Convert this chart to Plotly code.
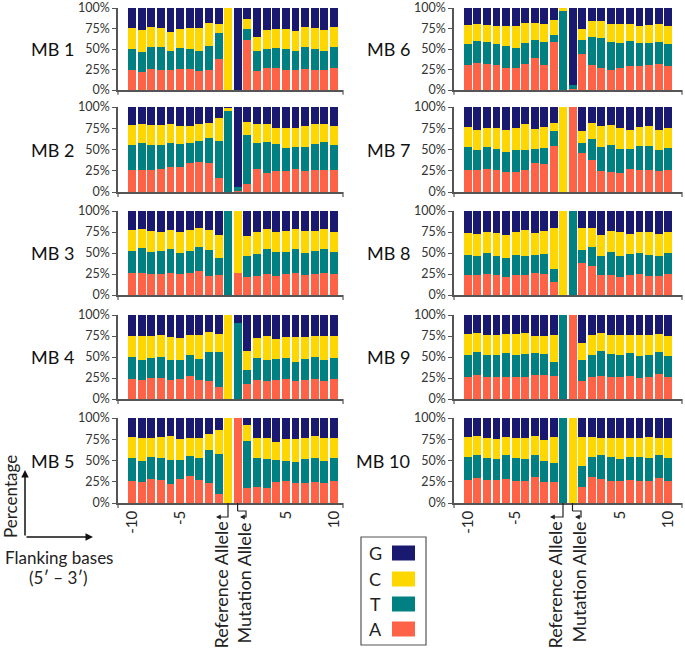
import plotly.graph_objects as go

W, H = 685, 650

# ---------------- data ----------------
# bar order: -10..-1, Reference allele, Mutation allele, +1..+10
bar_index = list(range(22))
bottom_tick_vals = [0, 5, 16, 21]
bottom_tick_text = ["-10", "-5", "5", "10"]
y_tick_vals = [0, 25, 50, 75, 100]
y_tick_text = ["0%", "25%", "50%", "75%", "100%"]
panel_names = ["MB 1", "MB 2", "MB 3", "MB 4", "MB 5", "MB 6", "MB 7", "MB 8", "MB 9", "MB 10"]
bases = ["A", "T", "C", "G"]

# cumulative boundaries (%): top of A, top of A+T, top of A+T+C  (G fills up to 100)
mb1_a = [24, 22.5, 26, 25, 24, 26, 26, 23, 24, 38, 0, 0, 61, 23, 27, 26.5, 25, 25, 26, 25, 24, 27]
mb1_t = [50, 46.6, 53, 52, 47, 51, 50.5, 47, 54, 69, 0, 0, 74, 47, 50, 51, 50, 47, 52, 50, 47, 53]
mb1_c = [76, 73, 77, 76, 71, 74, 75.5, 75.5, 82, 80, 100, 0, 86.5, 65, 73, 75, 74, 72, 76.5, 76, 73, 77]

mb2_a = [26, 26, 26, 27, 29, 30, 34.5, 35, 34, 17, 0, 1, 9, 27.5, 22, 24.7, 25, 26.7, 24.3, 25.5, 26.3, 25.5]
mb2_t = [55.7, 57.6, 55, 55, 57.6, 57, 57.6, 60, 63.5, 59.6, 95, 5.5, 66.7, 57.6, 59, 56.5, 51.4, 52.5, 53.3, 57, 58.4, 55.3]
mb2_c = [79, 80.4, 79, 79, 79.6, 78, 78, 79.6, 81, 86.7, 99.5, 5.5, 82.7, 80.4, 80.4, 75.7, 75, 75.7, 78, 79.6, 80.4, 78]

mb3_a = [26, 26.4, 25.2, 25.6, 26.4, 24.8, 26.4, 29, 23, 24, 0, 26.4, 21, 23.2, 25.2, 23.2, 24.8, 26, 23.6, 25.6, 26, 25.2]
mb3_t = [52.4, 55.5, 51.6, 52.4, 54.3, 50.4, 52.4, 56.7, 53.5, 44, 100, 26.4, 46.5, 49, 55, 50.8, 51.6, 55, 50.4, 52, 55, 51.6]
mb3_c = [77, 78.3, 76.4, 75.6, 77.6, 75.2, 76.8, 80, 77, 71, 100, 100, 70, 75.2, 78, 74.8, 76, 78.3, 76, 76.4, 78, 75.2]

mb4_a = [24.4, 23.2, 25.2, 25.2, 22.8, 24.4, 27.2, 22.4, 22, 14.6, 0, 0, 17.3, 23.2, 21.3, 23.2, 24.4, 21.7, 23.2, 24.4, 21.7, 24]
mb4_t = [49.6, 46, 48.8, 50, 46.8, 46.8, 52, 47.2, 56.3, 56.3, 0, 90, 35, 49.2, 46.8, 47.6, 48.8, 44.5, 47.6, 50, 46, 48.4]
mb4_c = [75.6, 75.6, 74.8, 76.4, 74, 72.8, 76, 76, 79.5, 76.8, 100, 90, 57.5, 72.8, 75.2, 71.3, 73.6, 73.6, 73.6, 75.6, 74.8, 74.8]

mb5_a = [25.6, 24.8, 28, 27.2, 22.8, 28, 31.9, 26.8, 23.6, 11, 0, 100, 18, 19, 17.3, 24.4, 26, 23.2, 24, 25.2, 23.6, 26.4]
mb5_t = [53, 49.2, 54.3, 53.5, 50.8, 50.8, 55.1, 52.8, 62.6, 57.5, 0, 100, 72.8, 52.4, 51.6, 50.4, 50, 48, 51.6, 53.5, 49.6, 53.5]
mb5_c = [77.6, 76.8, 76.8, 77.6, 78.7, 75.2, 76.8, 76, 81.5, 86.2, 100, 100, 91.3, 76.4, 76.8, 72, 75.2, 75.6, 76, 78.3, 76.4, 76.8]

mb6_a = [30.7, 33.5, 32, 30, 26.7, 26.7, 32, 39, 30.7, 58, 0, 1, 44, 30.7, 26.7, 24, 26.7, 29, 29, 30, 32, 29]
mb6_t = [56.6, 60, 58, 55.5, 54, 51.6, 57, 61, 59, 67, 96, 6, 61, 65, 63, 58.6, 57.8, 60, 57, 57, 58.6, 56]
mb6_c = [79, 80, 79, 77.7, 78.5, 77.7, 81.7, 82, 80, 85, 100, 6, 75, 84, 83.7, 81, 80.5, 80.5, 78.5, 79, 80, 78.5]

mb7_a = [25.4, 25.4, 27.4, 25.4, 23.8, 23.8, 25.4, 33.7, 33, 54, 0, 100, 45.6, 38, 25, 23, 22, 27.4, 25.8, 25.8, 24.6, 26.2]
mb7_t = [52.4, 49.6, 53, 50.8, 47.6, 49.6, 50, 50.8, 51.6, 72, 0, 100, 57.5, 62.3, 53, 55, 50.4, 50.8, 53.6, 54.4, 49.6, 52]
mb7_c = [76, 73.4, 75.8, 75.8, 73, 75.8, 80, 74.6, 76, 81.7, 100, 100, 72, 81.3, 77.4, 79.4, 75.4, 73.4, 77, 78.2, 73.4, 75.8]

mb8_a = [23.4, 23.4, 25.4, 23.4, 21.8, 23.4, 23.4, 25.8, 25.4, 15, 0, 0, 37.7, 34, 23.4, 23.4, 21, 24.2, 25, 23, 23, 25]
mb8_t = [47.6, 46.4, 50, 46.8, 44, 47.6, 46.8, 47.2, 48.8, 30.6, 0, 100, 53.2, 56.7, 46.4, 51.6, 46, 48.4, 49.6, 48, 46.4, 49.6]
mb8_c = [74.2, 72.2, 75, 73.8, 71.4, 75, 77.4, 73.4, 76.2, 79.4, 100, 100, 79.4, 79.4, 71.4, 76.6, 75, 72.2, 74.6, 75, 72.2, 74.6]

mb9_a = [25.9, 28.2, 26.3, 26.7, 26.7, 26.7, 26.3, 28.6, 28.2, 27.5, 0, 100, 21.6, 26.3, 27, 25.9, 26.7, 27.8, 25, 25.9, 30.2, 25.9]
mb9_t = [52.2, 55.7, 52.2, 52.2, 54.9, 52.9, 53.3, 55.3, 53.7, 44.3, 100, 100, 45.9, 52.5, 57.3, 53.7, 51.8, 54.5, 51, 52.2, 56, 51.4]
mb9_c = [76.9, 78.8, 76, 76, 76.9, 76.9, 78.4, 74.5, 75.3, 76, 100, 100, 66.3, 76, 78, 75.7, 75.7, 75.7, 75.7, 76.5, 77.6, 75]

mb10_a = [26.6, 29.4, 27, 27, 28.6, 25.4, 26.2, 30.2, 25, 24.6, 0, 0, 19.4, 31, 27.8, 25.4, 25.4, 27.4, 26.2, 26.2, 29.4, 26.2]
mb10_t = [53.6, 56, 53.2, 52, 56, 52.4, 51.2, 56.3, 49.6, 47.6, 100, 0, 44, 54.4, 57, 53.6, 51.6, 54.4, 53.6, 52.8, 56, 52.8]
mb10_c = [77.4, 78.6, 77, 75.8, 77.8, 76.2, 77, 78.6, 74.6, 77.4, 100, 100, 77.8, 77.8, 77, 77, 77, 77, 77, 77.4, 77, 76.2]

panels = [
    (mb1_a, mb1_t, mb1_c), (mb2_a, mb2_t, mb2_c), (mb3_a, mb3_t, mb3_c),
    (mb4_a, mb4_t, mb4_c), (mb5_a, mb5_t, mb5_c), (mb6_a, mb6_t, mb6_c),
    (mb7_a, mb7_t, mb7_c), (mb8_a, mb8_t, mb8_c), (mb9_a, mb9_t, mb9_c),
    (mb10_a, mb10_t, mb10_c),
]

# ---------------- styling ----------------
colors = {"A": "#FF6347", "T": "#008080", "C": "#FFD700", "G": "#191970"}
FONT = "Lato, 'Open Sans', sans-serif"
AXC = "#555555"


def px(x):
    return x / W


def py(y):
    return 1 - y / H


col_px = [(118, 343), (454, 682)]
col_range = [(-1.46, 21.94), (-1.46, 22.46)]
row_px = [(8, 90), (107, 192), (211, 295), (315, 399), (418, 503)]

fig = go.Figure()
layout = dict(
    width=W, height=H, margin=dict(l=0, r=0, t=0, b=0, pad=0, autoexpand=False),
    paper_bgcolor="white", plot_bgcolor="white",
    barmode="stack", bargap=0.17, showlegend=False,
    font=dict(family=FONT, color="#222222"),
)
annotations = []
shapes = []

for i, (a_top, t_top, c_top) in enumerate(panels):
    n = i + 1
    col = 0 if i < 5 else 1
    row = i % 5
    xs = "x" if n == 1 else f"x{n}"
    ys = "y" if n == 1 else f"y{n}"
    seg = {
        "A": a_top,
        "T": [t - a for a, t in zip(a_top, t_top)],
        "C": [c - t for t, c in zip(t_top, c_top)],
        "G": [100 - c for c in c_top],
    }
    for b in bases:
        fig.add_trace(go.Bar(x=bar_index, y=seg[b], name=b, marker_color=colors[b],
                             marker_line_width=0, xaxis=xs, yaxis=ys, showlegend=False))
    x0, x1 = col_px[col]
    y0, y1 = row_px[row]
    bottom = row == 4
    xa = dict(domain=[px(x0), px(x1)], anchor=ys, range=list(col_range[col]), automargin=False,
              showline=True, linecolor=AXC, linewidth=1.5, showgrid=False, zeroline=False,
              fixedrange=True)
    if bottom:
        xa.update(tickvals=bottom_tick_vals, ticktext=bottom_tick_text, tickangle=-90,
                  ticks="", tickfont=dict(family=FONT, size=15, color="#222222"))
    else:
        xa.update(showticklabels=False, ticks="")
    ya = dict(domain=[py(y1), py(y0)], anchor=xs, range=[0, 100], automargin=False,
              tickvals=y_tick_vals, ticktext=y_tick_text, ticks="outside", ticklen=4,
              tickcolor=AXC, showline=True, linecolor=AXC, linewidth=1.5,
              showgrid=False, zeroline=False, fixedrange=True, ticklabeloverflow="allow",
              tickfont=dict(family=FONT, size=12.5, color="#333333"))
    layout["xaxis" if n == 1 else f"xaxis{n}"] = xa
    layout["yaxis" if n == 1 else f"yaxis{n}"] = ya

    # small ticks at the ends of each x axis
    xd = f"{xs} domain"
    yd = f"{ys} domain"
    for xv in (0, 1):
        shapes.append(dict(type="line", xref=xd, yref=yd, x0=xv, x1=xv, y0=0, y1=-5 / 85,
                           line=dict(color=AXC, width=1.2)))

    # panel label
    annotations.append(dict(text=panel_names[i], xref="paper", yref="paper",
                            x=px(x0 - 42), y=py((y0 + y1) / 2), xanchor="right", yanchor="middle",
                            showarrow=False, font=dict(family=FONT, size=18, color="#111111")))

# allele labels under the bottom row
for col, (ref_bar, mut_bar, ref_lab, mut_lab) in enumerate([(228, 237.6, 220, 243), (563, 572.5, 554, 578)]):
    for xb in (ref_bar, mut_bar):
        shapes.append(dict(type="line", xref="paper", yref="paper", x0=px(xb), x1=px(xb),
                           y0=py(503), y1=py(511), line=dict(color="#222222", width=1.2)))
    # reference hook
    shapes.append(dict(type="path", xref="paper", yref="paper",
                       path=f"M {px(ref_bar)} {py(511)} L {px(ref_bar)} {py(517)} L {px(ref_lab - 1)} {py(517)}",
                       line=dict(color="#222222", width=1.2)))
    annotations.append(dict(text="", xref="paper", yref="paper", x=px(ref_lab - 4), y=py(517),
                            ax=6, ay=0, showarrow=True, arrowhead=2, arrowsize=0.8, arrowwidth=1.2,
                            arrowcolor="#222222"))
    # mutation hook
    shapes.append(dict(type="path", xref="paper", yref="paper",
                       path=f"M {px(mut_bar)} {py(511)} L {px(mut_lab + 3)} {py(511)} L {px(mut_lab + 3)} {py(517)} L {px(mut_lab)} {py(517)}",
                       line=dict(color="#222222", width=1.2)))
    annotations.append(dict(text="", xref="paper", yref="paper", x=px(mut_lab - 3), y=py(517),
                            ax=4, ay=0, showarrow=True, arrowhead=2, arrowsize=0.8, arrowwidth=1.2,
                            arrowcolor="#222222"))
    for lab, xl in (("Reference Allele", ref_lab), ("Mutation Allele", mut_lab)):
        annotations.append(dict(text=lab, textangle=-90, xref="paper", yref="paper",
                                x=px(xl), y=py(520), xanchor="center", yanchor="top",
                                showarrow=False, font=dict(family=FONT, size=18, color="#222222")))

# axis hint in the lower-left corner
annotations.append(dict(text="Percentage", textangle=-90, xref="paper", yref="paper",
                        x=px(10), y=py(497), xanchor="center", yanchor="middle", showarrow=False,
                        font=dict(family=FONT, size=17, color="#222222")))
annotations.append(dict(text="", xref="paper", yref="paper", x=px(25), y=py(470), ax=0, ay=67,
                        showarrow=True, arrowhead=2, arrowsize=1, arrowwidth=1.5, arrowcolor="#111111"))
annotations.append(dict(text="", xref="paper", yref="paper", x=px(93), y=py(537), ax=-68, ay=0,
                        showarrow=True, arrowhead=2, arrowsize=1, arrowwidth=1.5, arrowcolor="#111111"))
annotations.append(dict(text="Flanking bases", xref="paper", yref="paper", x=px(59), y=py(557),
                        xanchor="center", yanchor="middle", showarrow=False,
                        font=dict(family=FONT, size=17, color="#222222")))
annotations.append(dict(text="(5\u2032 \u2013 3\u2032)", xref="paper", yref="paper", x=px(58), y=py(577),
                        xanchor="center", yanchor="middle", showarrow=False,
                        font=dict(family=FONT, size=17, color="#222222")))

# legend box
shapes.append(dict(type="rect", xref="paper", yref="paper", x0=px(361), x1=px(426), y0=py(645), y1=py(537),
                   line=dict(color="#555555", width=1.2), fillcolor="rgba(0,0,0,0)"))
for b, yc in zip(["G", "C", "T", "A"], [553, 579, 604, 629]):
    shapes.append(dict(type="rect", xref="paper", yref="paper", x0=px(392), x1=px(415),
                       y0=py(yc + 7.5), y1=py(yc - 7.5), line=dict(width=0), fillcolor=colors[b]))
    annotations.append(dict(text=b, xref="paper", yref="paper", x=px(375), y=py(yc),
                            xanchor="center", yanchor="middle", showarrow=False,
                            font=dict(family=FONT, size=18, color="#222222")))

layout["annotations"] = annotations
layout["shapes"] = shapes
fig.update_layout(**layout)
fig.write_html("out.html", config={"displayModeBar": False},
               post_script="document.body.style.margin='0';document.body.style.padding='0';")
